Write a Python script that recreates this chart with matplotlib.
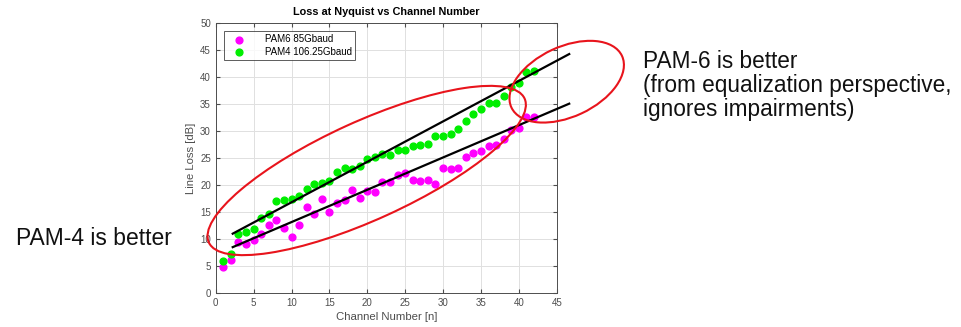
import matplotlib
matplotlib.use('Agg')
import matplotlib.pyplot as plt
from matplotlib.patches import Ellipse

plt.rcParams['font.family'] = ['Liberation Sans', 'DejaVu Sans']

channels = list(range(1, 43))
pam6 = [4.9, 6.2, 9.4, 9.1, 9.9, 11.0, 12.6, 13.6, 12.1, 10.3,
        12.6, 15.9, 14.6, 17.5, 15.0, 16.7, 17.2, 19.1, 17.6, 18.9,
        18.7, 20.6, 20.6, 21.9, 22.2, 20.9, 20.7, 21.0, 20.3, 23.1,
        23.0, 23.2, 25.3, 25.9, 26.4, 27.3, 27.4, 28.6, 30.2, 30.6,
        32.6, 32.6]
pam4 = [6.0, 7.2, 11.0, 11.3, 11.9, 13.9, 14.7, 17.0, 17.3, 17.5,
        18.0, 19.3, 20.2, 20.4, 20.8, 22.5, 23.1, 23.0, 23.6, 24.9,
        25.3, 25.8, 25.6, 26.6, 26.6, 27.2, 27.4, 27.6, 29.1, 29.1,
        29.5, 30.4, 31.9, 33.1, 34.2, 35.2, 35.3, 36.5, 38.1, 38.9,
        40.9, 41.2]
# trend lines drawn over the chart (x ends, y ends)
fit_x = [2.24, 46.65]
fit_pam4 = [11.0, 44.3]
fit_pam6 = [8.5, 35.1]

fig = plt.figure(figsize=(9.61, 3.27), dpi=100)
ax = fig.add_axes([0.2245, 0.104, 0.3548, 0.8247])

ax.scatter(channels, pam6, s=24, color='#ff00ff', label='PAM6 85Gbaud', zorder=3)
ax.scatter(channels, pam4, s=24, color='#00ee00', label='PAM4 106.25Gbaud', zorder=3)
ax.plot(fit_x, fit_pam4, color='black', lw=1.6, clip_on=False, zorder=4)
ax.plot(fit_x, fit_pam6, color='black', lw=1.6, clip_on=False, zorder=4)

ax.set_xlim(0, 45)
ax.set_ylim(0, 50)
ax.set_xticks(range(0, 46, 5))
ax.set_yticks(range(0, 51, 5))
ax.grid(True, color='#e0e0e0', lw=0.7)
ax.set_axisbelow(True)
ax.tick_params(direction='in', top=True, right=True, labelsize=7,
               labelcolor='#4d4d4d', color='#4d4d4d', length=3)
for s in ax.spines.values():
    s.set_color('#4d4d4d')
    s.set_linewidth(0.7)
ax.set_title('Loss at Nyquist vs Channel Number', fontsize=7.8,
             fontweight='bold', pad=6)
ax.set_xlabel('Channel Number [n]', fontsize=8.2, color='#4d4d4d', labelpad=3)
ax.set_ylabel('Line Loss [dB]', fontsize=8.1, color='#4d4d4d', labelpad=3)
leg = ax.legend(loc='upper left', fontsize=7, frameon=True, fancybox=False,
                edgecolor='#333333', borderpad=0.35, handletextpad=1.4,
                labelspacing=0.25, handlelength=2.5, borderaxespad=0.8)
leg.get_frame().set_linewidth(0.7)

# red ellipses (figure pixel positions, y from top)
def px_ellipse(cx, cy, w, h, ang):
    e = Ellipse((cx / 100, (327 - cy) / 100), w / 100, h / 100, angle=ang,
                transform=fig.dpi_scale_trans, fill=False,
                edgecolor='#e8141c', lw=1.5, zorder=5)
    fig.add_artist(e)

px_ellipse(366.7, 170.5, 347, 98, 24.5)
px_ellipse(566.7, 81.7, 122, 70, 25)

# baseline of the last line
fig.text(642.7 / 961, 1 - 116 / 327, 'PAM-6 is better\n(from equalization perspective,\nignores impairments)',
         fontsize=16.3, va='baseline', ha='left', linespacing=1.05, color='#111111')
fig.text(16 / 961, 1 - 245 / 327, 'PAM-4 is better', fontsize=16.5,
         va='baseline', ha='left', color='#111111')

fig.savefig('out.png', dpi=100)
